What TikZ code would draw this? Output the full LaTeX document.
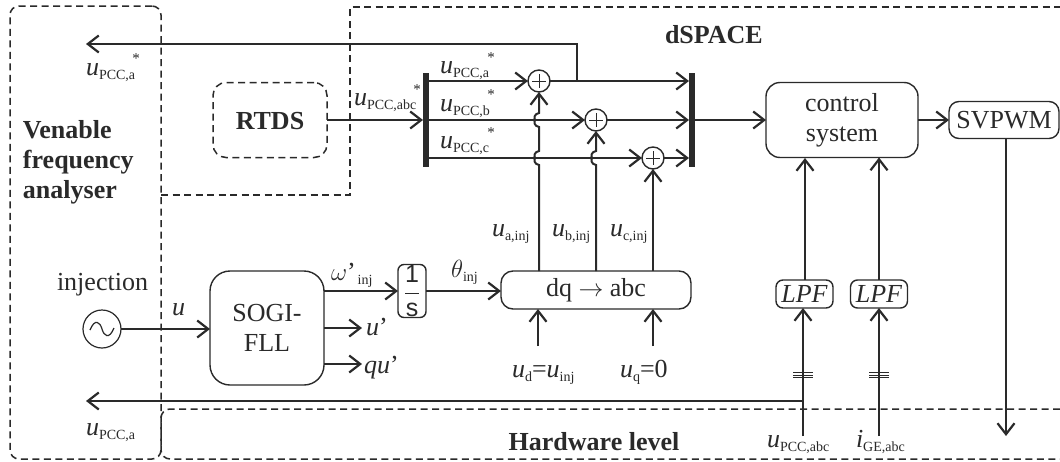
\documentclass[tikz,border=0pt]{standalone}
\usepackage{fontspec}
\setmainfont{Liberation Serif}
\setsansfont{Liberation Sans}
\usetikzlibrary{arrows.meta}
\definecolor{ink}{HTML}{2A2A2A}
\newcommand{\bigtxt}{\fontsize{26}{30}\selectfont}
\newcommand{\subtxt}{\fontsize{14}{14}\selectfont}
\newcommand{\usub}[2]{{\bigtxt\itshape #1}\raisebox{-4pt}{\subtxt #2}}
\tikzset{
  x=1pt,y=-1pt,
  every node/.style={text=ink,inner sep=0pt,outer sep=0pt},
  wire/.style={draw=ink,line width=2pt},
  arr/.style={wire,-{Straight Barb[length=11pt,width=17pt,line width=2.2pt]}},
  blk/.style={draw=ink,line width=1.4pt,rounded corners=#1,align=center,font=\bigtxt},
  blk/.default=14pt,
  dash box/.style={draw=ink,line width=1.5pt,dash pattern=on 7pt off 4.5pt},
  bus/.style={fill=ink,minimum width=6pt,minimum height=94pt},
  sum/.style={circle,draw=ink,line width=1.4pt,fill=white,minimum size=22pt,
    path picture={\draw[ink,line width=.9pt]
      (path picture bounding box.center)+(-7,0)--+(7,0)
      (path picture bounding box.center)+(0,-7)--+(0,7);}},
  lab/.style={anchor=base west},
  star/.style={font=\fontsize{15}{15}\selectfont},
  head/.style={font=\bfseries\fontsize{26}{30}\selectfont,align=center},
}
\begin{document}
\begin{tikzpicture}
\useasboundingbox (0,0) rectangle (1060,461);
\fill[white] (0,0) rectangle (1060,461);
% dashed regions
\node[dash box,rounded corners=9pt,minimum width=151pt,minimum height=453pt] (ven) at (85.5,232.5) {};
\coordinate (dsA) at (161,195);
\coordinate (dsB) at (350,195);
\coordinate (dsC) at (350,7);
\coordinate (dsD) at (1060,7);
\draw[dash box] (dsA) -- (dsB) -- (dsC) -- (dsD);
\coordinate (hwA) at (1060,409);
\coordinate (hwB) at (161,409);
\coordinate (hwC) at (161,459);
\coordinate (hwD) at (1060,459);
\draw[dash box,rounded corners=9pt] (hwA) -- (hwB) -- (hwC) -- (hwD);
\node[dash box,rounded corners=13pt,minimum width=114pt,minimum height=75pt] (rtds) at (270,120) {};
\node[head] (rtdst) at (270,121) {RTDS};
\node[head,anchor=west] (ds) at (665,35) {dSPACE};
\node[head,anchor=base] (hw) at (594,450) {Hardware level};
\node[head,align=left,anchor=base west] (vent) at (23,198) {Venable\\frequency\\analyser};
% buses
\node[bus] (busL) at (426,120) {};
\node[bus] (busR) at (692,120) {};
% blocks
\node[sum] (sumA) at (539,81) {};
\node[sum] (sumB) at (596,120) {};
\node[sum] (sumC) at (653,158) {};
\node[blk,minimum width=152pt,minimum height=75pt] (ctrl) at (842,120) {control\\system};
\node[blk=10pt,minimum width=110pt,minimum height=37pt] (svpwm) at (1004,120) {SVPWM};
\node[blk=7pt,minimum width=57pt,minimum height=28pt,font=\bigtxt\itshape] (lpfA) at (804.5,294) {LPF};
\node[blk=7pt,minimum width=57pt,minimum height=28pt,font=\bigtxt\itshape] (lpfB) at (879,294) {LPF};
\node[blk=12pt,minimum width=190pt,minimum height=38pt] (dq) at (596,290) {dq $\rightarrow$ abc};
\node[blk=20pt,minimum width=114pt,minimum height=114pt] (sogi) at (267,328) {SOGI-\\FLL};
\node[blk=6pt,minimum width=28pt,minimum height=53pt] (int) at (412,291) {};
\node (intt) at (412,291) {\fontsize{25}{25}\selectfont$\displaystyle\frac{\mathsf{1}}{\mathsf{s}}$};
\node[circle,draw=ink,line width=1.2pt,minimum size=38pt] (src) at (102,329) {};
\draw[ink,line width=1.2pt] (90,330) .. controls (95,318) and (100,322) .. (102,329)
   .. controls (104,336) and (109,340) .. (114,328);
% top feedback
\coordinate (tapA) at (577,81);
\coordinate (fbT) at (577,44);
\coordinate (fbTend) at (86,44);
\draw[arr] (tapA) -- (fbT) -- (fbTend);
% rows
\draw[arr] (rtds.east) -- (busL.west);
\draw[arr] (busL.east |- sumA) -- (sumA.west);
\draw[arr] (busL.east |- sumB) -- (sumB.west);
\draw[arr] (busL.east |- sumC) -- (sumC.west);
\draw[arr] (sumA.east) -- (busR.west |- sumA);
\draw[arr] (sumB.east) -- (busR.west |- sumB);
\draw[arr] (sumC.east) -- (busR.west |- sumC);
\draw[arr] (busR.east |- ctrl) -- (ctrl.west);
\draw[arr] (ctrl.east |- svpwm) -- (svpwm.west);
% injected signals with line hops
\draw[arr] (539,271) -- (539,165) .. controls (534,164) and (534,160) .. (535,158)
  .. controls (534,156) and (534,152) .. (539,151) -- (539,127) .. controls (534,126) and (534,122) .. (535,120)
  .. controls (534,118) and (534,114) .. (539,113) -- (sumA.south);
\draw[arr] (596,271) -- (596,165) .. controls (591,164) and (591,160) .. (592,158)
  .. controls (591,156) and (591,152) .. (596,151) -- (sumB.south);
\draw[arr] (dq.north -| sumC) -- (sumC.south);
% dq inputs
\coordinate (udS) at (538,346);
\coordinate (uqS) at (653,346);
\draw[arr] (udS) -- (udS |- dq.south);
\draw[arr] (uqS) -- (uqS |- dq.south);
% sogi outputs
\draw[arr] (src.east) -- (sogi.west |- src);
\draw[arr] (sogi.east |- int) -- (int.west);
\draw[arr] (int.east) -- (dq.west |- int);
\coordinate (upE) at (362,328);
\coordinate (quE) at (362,364);
\draw[arr] (sogi.east |- upE) -- (upE);
\draw[arr] (sogi.east |- quE) -- (quE);
% control inputs
\coordinate (ctA) at (805,158);
\draw[arr] (ctA |- lpfA.north) -- (ctA);
\draw[arr] (lpfB.north) -- (lpfB.north |- ctrl.south);
\coordinate (upcc) at (803,436);
\coordinate (igE) at (879,436);
\draw[arr] (upcc) -- (upcc |- lpfA.south);
\draw[arr] (igE) -- (igE |- lpfB.south);
\coordinate (fbJ) at (803,401);
\coordinate (fbE) at (86,401);
\draw[arr] (fbJ) -- (fbE);
\coordinate (svE) at (1006,436);
\draw[arr] (svE |- svpwm.south) -- (svE);
% three-phase marks
\foreach \yy in {372.5,375,377.5}{
  \draw[ink,line width=1pt] (793,\yy) -- (813,\yy);
  \draw[ink,line width=1pt] (869,\yy) -- (889,\yy);
}
% labels
\node[lab] (l1) at (86,75) {\usub{u}{PCC,a}};
\node[star] (s1) at (136,59) {*};
\node[lab] (l2) at (354,105) {\usub{u}{PCC,abc}};
\node[star] (s2) at (417,90) {*};
\node[lab] (l3) at (440,73) {\usub{u}{PCC,a}};
\node[star] (s3) at (491,58) {*};
\node[lab] (l4) at (440,111) {\usub{u}{PCC,b}};
\node[star] (s4) at (491,95) {*};
\node[lab] (l5) at (440,148) {\usub{u}{PCC,c}};
\node[star] (s5) at (491,133) {*};
\node[lab] (l6) at (492,236) {\usub{u}{a,inj}};
\node[lab] (l7) at (552,236) {\usub{u}{b,inj}};
\node[lab] (l8) at (610,236) {\usub{u}{c,inj}};
\node[lab] (l9) at (451,277) {\usub{$\theta$}{inj}};
\node[lab] (l10) at (331,280) {{\bigtxt\itshape $\omega$}{\bigtxt '}\hspace{2pt}\raisebox{-4pt}{\subtxt inj}};
\node[lab] (l11) at (172,315) {{\bigtxt\itshape u}};
\node[lab] (l12) at (57,290) {\bigtxt injection};
\node[lab] (l13) at (366,335) {{\bigtxt\itshape u}{\bigtxt '}};
\node[lab] (l14) at (364,373) {{\bigtxt\itshape qu}{\bigtxt '}};
\node[lab] (l15) at (86,435) {\usub{u}{PCC,a}};
\node[lab] (l16) at (512,377) {\usub{u}{d}{\bigtxt =}\usub{u}{inj}};
\node[lab] (l17) at (620,377) {\usub{u}{q}{\bigtxt =0}};
\node[lab] (l18) at (767,447) {\usub{u}{PCC,abc}};
\node[lab] (l19) at (856,447) {\usub{i}{GE,abc}};
\end{tikzpicture}
\end{document}
